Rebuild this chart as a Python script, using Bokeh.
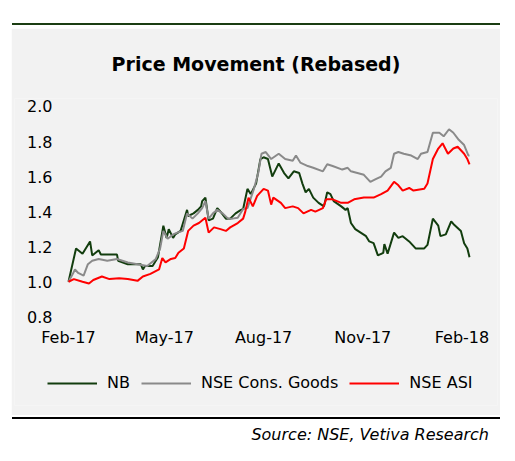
import pandas as pd
from bokeh.plotting import figure
from bokeh.layouts import column
from bokeh.models import (Range1d, FixedTicker, DatetimeTickFormatter,
                          NumeralTickFormatter, Legend, LegendItem, Div)
from bokeh.embed import file_html
from bokeh.resources import INLINE

# ---------------- data ----------------
nb_dates = ["2017-02-01", "2017-02-08", "2017-02-14", "2017-02-21", "2017-02-23", "2017-03-01",
            "2017-03-03", "2017-03-18", "2017-03-19", "2017-03-28", "2017-04-09", "2017-04-11",
            "2017-04-13", "2017-04-20", "2017-04-25", "2017-04-30", "2017-05-03", "2017-05-05",
            "2017-05-09", "2017-05-11", "2017-05-16", "2017-05-22", "2017-05-23", "2017-05-28",
            "2017-06-01", "2017-06-04", "2017-06-05", "2017-06-08", "2017-06-11", "2017-06-15",
            "2017-06-19", "2017-06-22", "2017-06-27", "2017-07-01", "2017-07-06", "2017-07-11",
            "2017-07-13", "2017-07-17", "2017-07-20", "2017-07-25", "2017-07-29", "2017-08-01",
            "2017-08-05", "2017-08-09", "2017-08-15", "2017-08-20", "2017-08-24", "2017-08-29",
            "2017-09-03", "2017-09-06", "2017-09-09", "2017-09-12", "2017-09-16", "2017-09-21",
            "2017-09-26", "2017-09-29", "2017-10-02", "2017-10-05", "2017-10-12", "2017-10-16",
            "2017-10-18", "2017-10-21", "2017-10-25", "2017-10-30", "2017-11-04", "2017-11-07",
            "2017-11-11", "2017-11-15", "2017-11-20", "2017-11-21", "2017-11-24", "2017-11-30",
            "2017-12-04", "2017-12-08", "2017-12-14", "2017-12-20", "2017-12-28", "2017-12-31",
            "2018-01-05", "2018-01-10", "2018-01-12", "2018-01-17", "2018-01-22", "2018-01-24",
            "2018-01-31", "2018-02-03", "2018-02-06", "2018-02-08"]
nb_values = [1.00, 1.19, 1.16, 1.23, 1.15, 1.18,
             1.155, 1.155, 1.12, 1.10, 1.10, 1.07,
             1.09, 1.09, 1.14, 1.32, 1.25, 1.30,
             1.25, 1.27, 1.29, 1.41, 1.375, 1.39,
             1.41, 1.43, 1.46, 1.48, 1.35, 1.36,
             1.42, 1.40, 1.36, 1.36, 1.39, 1.41,
             1.415, 1.53, 1.50, 1.56, 1.70, 1.71,
             1.70, 1.60, 1.675, 1.62, 1.59, 1.63,
             1.62, 1.56, 1.51, 1.53, 1.48, 1.45,
             1.43, 1.51, 1.50, 1.46, 1.43, 1.41,
             1.42, 1.335, 1.30, 1.28, 1.26, 1.23,
             1.22, 1.15, 1.165, 1.215, 1.16, 1.28,
             1.25, 1.26, 1.23, 1.19, 1.19, 1.21,
             1.36, 1.32, 1.26, 1.27, 1.345, 1.33,
             1.29, 1.22, 1.19, 1.14]

cg_dates = ["2017-02-01", "2017-02-05", "2017-02-07", "2017-02-10", "2017-02-15", "2017-02-19",
            "2017-02-23", "2017-03-01", "2017-03-09", "2017-03-18", "2017-03-28", "2017-04-06",
            "2017-04-15", "2017-04-23", "2017-04-27", "2017-04-30", "2017-05-04", "2017-05-09",
            "2017-05-13", "2017-05-18", "2017-05-22", "2017-05-27", "2017-06-01", "2017-06-05",
            "2017-06-08", "2017-06-11", "2017-06-15", "2017-06-19", "2017-06-24", "2017-06-29",
            "2017-07-03", "2017-07-08", "2017-07-13", "2017-07-17", "2017-07-23", "2017-07-27",
            "2017-07-30", "2017-08-03", "2017-08-08", "2017-08-15", "2017-08-21", "2017-08-28",
            "2017-08-31", "2017-09-04", "2017-09-11", "2017-09-16", "2017-09-25", "2017-09-29",
            "2017-10-04", "2017-10-13", "2017-10-18", "2017-10-21", "2017-10-27", "2017-11-02",
            "2017-11-08", "2017-11-13", "2017-11-18", "2017-11-22", "2017-11-27", "2017-11-30",
            "2017-12-04", "2017-12-09", "2017-12-16", "2017-12-22", "2017-12-25", "2017-12-31",
            "2018-01-05", "2018-01-11", "2018-01-15", "2018-01-20", "2018-01-24", "2018-01-29",
            "2018-02-03", "2018-02-07", "2018-02-08"]
cg_values = [1.00, 1.045, 1.07, 1.05, 1.035, 1.10,
             1.12, 1.13, 1.12, 1.13, 1.11, 1.10,
             1.09, 1.13, 1.19, 1.29, 1.245, 1.27,
             1.28, 1.29, 1.39, 1.36, 1.39, 1.42,
             1.46, 1.36, 1.39, 1.41, 1.39, 1.36,
             1.36, 1.365, 1.415, 1.42, 1.53, 1.62,
             1.73, 1.74, 1.70, 1.73, 1.70, 1.69,
             1.72, 1.68, 1.66, 1.65, 1.63, 1.67,
             1.66, 1.64, 1.65, 1.63, 1.62, 1.61,
             1.57, 1.585, 1.60, 1.63, 1.65, 1.73,
             1.74, 1.73, 1.72, 1.70, 1.73, 1.74,
             1.85, 1.85, 1.83, 1.87, 1.85, 1.81,
             1.78, 1.72, 1.72]

asi_dates = ["2017-02-01", "2017-02-06", "2017-02-14", "2017-02-20", "2017-02-24", "2017-03-04",
             "2017-03-11", "2017-03-20", "2017-03-28", "2017-04-06", "2017-04-11", "2017-04-18",
             "2017-04-26", "2017-04-29", "2017-05-02", "2017-05-07", "2017-05-11", "2017-05-14",
             "2017-05-19", "2017-05-23", "2017-05-28", "2017-06-02", "2017-06-08", "2017-06-11",
             "2017-06-16", "2017-06-22", "2017-06-27", "2017-07-01", "2017-07-08", "2017-07-13",
             "2017-07-15", "2017-07-18", "2017-07-22", "2017-07-26", "2017-08-01", "2017-08-05",
             "2017-08-08", "2017-08-10", "2017-08-17", "2017-08-21", "2017-08-28", "2017-09-02",
             "2017-09-07", "2017-09-14", "2017-09-18", "2017-09-25", "2017-09-28", "2017-10-04",
             "2017-10-12", "2017-10-18", "2017-10-24", "2017-11-02", "2017-11-11", "2017-11-18",
             "2017-11-24", "2017-11-30", "2017-12-04", "2017-12-08", "2017-12-14", "2017-12-18",
             "2017-12-28", "2017-12-31", "2018-01-05", "2018-01-10", "2018-01-14", "2018-01-19",
             "2018-01-24", "2018-01-28", "2018-02-03", "2018-02-06", "2018-02-08"]
asi_values = [1.00, 1.015, 1.00, 0.99, 1.01, 1.03,
              1.015, 1.02, 1.015, 1.005, 1.03, 1.045,
              1.07, 1.135, 1.11, 1.13, 1.135, 1.165,
              1.19, 1.29, 1.32, 1.335, 1.365, 1.28,
              1.31, 1.30, 1.29, 1.31, 1.335, 1.36,
              1.40, 1.48, 1.43, 1.49, 1.53, 1.52,
              1.44, 1.48, 1.45, 1.42, 1.43, 1.42,
              1.39, 1.41, 1.40, 1.42, 1.47, 1.47,
              1.45, 1.45, 1.47, 1.48, 1.48, 1.50,
              1.52, 1.57, 1.55, 1.52, 1.535, 1.52,
              1.53, 1.56, 1.70, 1.76, 1.79, 1.73,
              1.76, 1.77, 1.73, 1.70, 1.67]

series_names = ["NB", "NSE Cons. Goods", "NSE ASI"]
tick_dates = ["2017-02-01", "2017-05-01", "2017-08-01", "2017-11-01", "2018-02-01"]
y_ticks = [0.8, 1.0, 1.2, 1.4, 1.6, 1.8, 2.0]
axis_origin_date = "2017-02-01"
axis_origin_value = 0.8

title_text = "Price Movement (Rebased)"
source_text = "Source: NSE, Vetiva Research"

# ---------------- styling / layout ----------------
FONT = "DejaVu Sans"
PANEL = "#f2f2f2"
colors = ["#123d0e", "#8a8a8a", "#ff0000"]

# pixel scale of the plotting area (px per day, px per unit) and padding around it
PX_PER_DAY = 1.078
PX_PER_UNIT = 175.8
PAD_LEFT, PAD_RIGHT = 54, 27       # px beyond first date / last x tick area
PAD_TOP, PAD_BOTTOM = 8, 89        # px above 2.0 / below 0.8

origin = pd.Timestamp(axis_origin_date)
x_start = origin - pd.Timedelta(days=PAD_LEFT / PX_PER_DAY)
x_end = origin + pd.Timedelta(days=(402 + PAD_RIGHT) / PX_PER_DAY)
y_start = axis_origin_value - PAD_BOTTOM / PX_PER_UNIT
y_end = max(y_ticks) + PAD_TOP / PX_PER_UNIT

def to_ms(lst):
    return [d.value / 1e6 for d in pd.to_datetime(lst)]

top_div = Div(text='<div style="padding-top:23px;padding-left:12px;">'
                   '<div style="width:488px;height:2px;background:#1b3d12;"></div></div>',
              width=515, height=28, margin=0)

p = figure(width=489, height=387, output_backend="svg", toolbar_location=None,
           x_axis_type="datetime",
           x_range=Range1d(x_start, x_end), y_range=Range1d(y_start, y_end),
           min_border_left=3, min_border_right=3, min_border_top=69, min_border_bottom=10)
p.margin = (0, 0, 0, 11)
p.background_fill_color = PANEL
p.border_fill_color = PANEL
p.outline_line_color = None
p.grid.visible = False

p.title.text = title_text
p.title.text_font = FONT
p.title.text_font_size = "19px"
p.title.text_font_style = "bold"
p.title.align = "center"
p.title.vertical_align = "middle"
p.title.offset = -1
p.title.standoff = 46
p.title.text_color = "#000000"

renderers = []
for dates, vals, c in [(nb_dates, nb_values, colors[0]),
                       (cg_dates, cg_values, colors[1]),
                       (asi_dates, asi_values, colors[2])]:
    r = p.line(pd.to_datetime(dates), vals, line_color=c, line_width=2)
    renderers.append(r)

for ax in (p.xaxis[0], p.yaxis[0]):
    ax.axis_line_color = None
    ax.major_tick_line_color = None
    ax.minor_tick_line_color = None
    ax.major_tick_in = 0
    ax.major_tick_out = 0
    ax.minor_tick_in = 0
    ax.minor_tick_out = 0
    ax.major_label_text_font = FONT
    ax.major_label_text_font_size = "16px"
    ax.major_label_text_color = "#000000"

p.yaxis[0].ticker = FixedTicker(ticks=y_ticks)
p.yaxis[0].formatter = NumeralTickFormatter(format="0.0")
p.yaxis[0].major_label_standoff = 16
p.yaxis[0].fixed_location = origin.value / 1e6

p.xaxis[0].ticker = FixedTicker(ticks=to_ms(tick_dates))
p.xaxis[0].formatter = DatetimeTickFormatter(years="%b-%y", months="%b-%y", days="%b-%y",
                                             hours="%b-%y", minutes="%b-%y")
p.xaxis[0].major_label_standoff = 11
p.xaxis[0].fixed_location = axis_origin_value

legend = Legend(items=[LegendItem(label=n, renderers=[r]) for n, r in zip(series_names, renderers)],
                orientation="horizontal", location=(33, 13))
legend.background_fill_alpha = 0
legend.border_line_color = None
legend.glyph_width = 50
legend.glyph_height = 16
legend.label_height = 16
legend.label_standoff = 10
legend.spacing = 11
legend.padding = 0
legend.margin = 0
legend.label_text_font = FONT
legend.label_text_font_size = "16px"
legend.label_text_color = "#000000"
p.add_layout(legend, "center")

foot_div = Div(text='<div style="padding-top:2px;padding-left:12px;">'
                    '<div style="width:488px;height:2px;background:#000000;"></div>'
                    '<div style="width:477px;margin-top:6px;text-align:right;font-family:\'DejaVu Sans\';'
                    'font-style:italic;font-size:16px;line-height:20px;color:#000000;">'
                    + source_text + '</div></div>',
               width=515, height=46, margin=0)

layout = column(top_div, p, foot_div, spacing=0)
open("out.html", "w").write(file_html(layout, INLINE))
